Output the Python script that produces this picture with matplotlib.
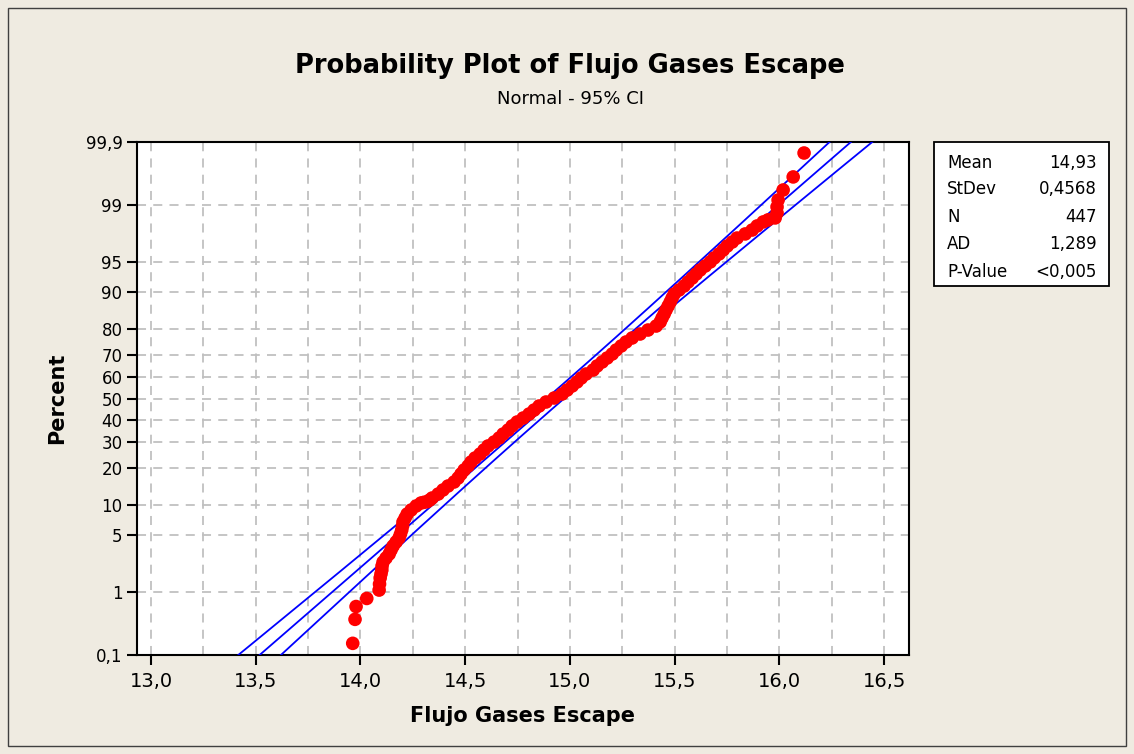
import numpy as np
import matplotlib
matplotlib.use('Agg')
import matplotlib.pyplot as plt
from matplotlib.patches import Rectangle
from statistics import NormalDist

# points: value and percent
flujo = [13.963, 13.974, 13.979, 14.030, 14.089, 14.091, 14.094, 14.098, 14.102, 14.103,
         14.108, 14.122, 14.137, 14.146, 14.156, 14.170, 14.184, 14.191, 14.197, 14.201,
         14.203, 14.213, 14.223, 14.242, 14.266, 14.289, 14.303, 14.318, 14.330, 14.342,
         14.371, 14.394, 14.418,
         14.447, 14.466, 14.480, 14.495, 14.514, 14.528, 14.547, 14.571, 14.590, 14.609,
         14.638, 14.662, 14.681, 14.705, 14.724, 14.748, 14.777, 14.805, 14.829, 14.853,
         14.886, 14.925, 14.963, 14.987, 15.011, 15.034, 15.054, 15.077, 15.111, 15.130,
         15.154, 15.178, 15.202, 15.221, 15.245, 15.268, 15.297, 15.335, 15.373, 15.412,
         15.431, 15.440, 15.450, 15.459, 15.469, 15.479, 15.488, 15.498, 15.521, 15.545,
         15.564, 15.584, 15.603, 15.622, 15.646, 15.670, 15.689, 15.712, 15.732, 15.751,
         15.775, 15.798, 15.837, 15.870, 15.894, 15.923, 15.946, 15.980, 15.989, 15.989,
         15.994, 16.018, 16.066, 16.118]
percent = [0.159, 0.39, 0.61, 0.80, 1.05, 1.27, 1.53, 1.73, 1.94, 2.18,
           2.44, 2.73, 3.05, 3.40, 3.78, 4.19, 4.64, 5.12, 5.66, 6.23,
           6.84, 7.49, 8.20, 8.96, 9.77, 10.40, 10.55, 10.69, 11.05, 11.53,
           12.49, 13.52, 14.59,
           15.72, 16.90, 18.14, 19.46, 20.81, 22.21, 23.67, 25.18, 26.76, 28.37,
           30.01, 31.70, 33.43, 35.20, 37.03, 38.86, 40.71, 42.58, 44.47, 46.41,
           48.32, 50.24, 52.16, 54.06, 56.00, 57.89, 59.75, 61.60, 63.42, 65.25,
           67.00, 68.72, 70.40, 72.04, 73.66, 75.20, 76.70, 78.14, 79.53, 80.87,
           82.17, 83.40, 84.57, 85.68, 86.74, 87.76, 88.70, 89.60, 90.44, 91.23,
           91.98, 92.67, 93.32, 93.92, 94.48, 95.00, 95.48, 95.92, 96.32, 96.69,
           97.03, 97.34, 97.63, 97.88, 98.12, 98.33, 98.43, 98.52, 98.73, 98.95,
           99.16, 99.40, 99.62, 99.845]

# summary table
mean = 14.93
stdev = 0.4568
n = 447
stat_names = ['Mean', 'StDev', 'N', 'AD', 'P-Value']
stat_values = ['14,93', '0,4568', '447', '1,289', '<0,005']

x_ticks = [13.0, 13.5, 14.0, 14.5, 15.0, 15.5, 16.0, 16.5]
y_ticks = [0.1, 1, 5, 10, 20, 30, 40, 50, 60, 70, 80, 90, 95, 99, 99.9]

nd = NormalDist()

def pct_to_z(p):
    p = np.clip(np.asarray(p, dtype=float), 1e-7, 100 - 1e-7)
    return np.vectorize(lambda v: nd.inv_cdf(v / 100.0), otypes=[float])(p)

def z_to_pct(z):
    return np.vectorize(lambda v: nd.cdf(v) * 100.0, otypes=[float])(np.asarray(z, dtype=float))

def comma(v, fmt):
    return format(v, fmt).replace('.', ',')

bg = '#EFEBE1'
plt.rcParams['font.family'] = ['DejaVu Sans']

fig = plt.figure(figsize=(11.34, 7.54), dpi=100, facecolor=bg)
fig.patches.append(Rectangle((8 / 1134, 8 / 754), 1 - 16 / 1134, 1 - 16 / 754, transform=fig.transFigure,
                             fill=False, edgecolor='#404040', linewidth=1))

ax = fig.add_axes([137 / 1134, 1 - 655 / 754, 772 / 1134, 513 / 754])
ax.set_yscale('function', functions=(pct_to_z, z_to_pct))

# fitted line and 95% confidence band
zz = np.linspace(-4.5, 4.5, 300)
fit = mean + zz * stdev
se = stdev * np.sqrt((1 + zz ** 2 / 2) / n)
pp = z_to_pct(zz)
for xs in (fit - 1.96 * se, fit, fit + 1.96 * se):
    ax.plot(xs, pp, color='#0000FF', lw=1.3, zorder=3)

ax.scatter(flujo, percent, s=96, color='#FF0000', edgecolors='none', zorder=4)

ax.set_xlim(12.933, 16.619)
ax.set_ylim(0.1, 99.9)
ax.set_xticks(x_ticks)
ax.set_xticklabels([comma(v, '.1f') for v in x_ticks])
ax.set_yticks(y_ticks)
ax.set_yticklabels([comma(v, 'g') for v in y_ticks])
ax.yaxis.set_minor_locator(matplotlib.ticker.NullLocator())
ax.tick_params(direction='out', length=7, width=1.5, labelsize=12, colors='black')
ax.tick_params(axis='x', labelsize=14, pad=5)

# dashed grid, also at the quarter steps on x
for gx in np.arange(13.0, 16.51, 0.25):
    ax.axvline(gx, color='#C0C0C0', lw=1.3, ls=(0, (5, 4)), zorder=1)
for gy in y_ticks:
    ax.axhline(gy, color='#C0C0C0', lw=1.3, ls=(0, (5, 4)), zorder=1)
for sp in ax.spines.values():
    sp.set_linewidth(1.5)

ax.set_xlabel('Flujo Gases Escape', fontsize=15, fontweight='bold', labelpad=11)
ax.set_ylabel('Percent', fontsize=15, fontweight='bold', labelpad=13)

fig.text(0.503, 1 - 66 / 754, 'Probability Plot of Flujo Gases Escape', ha='center', va='center',
         fontsize=18.5, fontweight='bold')
fig.text(0.503, 1 - 99 / 754, 'Normal - 95% CI', ha='center', va='center', fontsize=13)

# stats box
fig.patches.append(Rectangle((934 / 1134, 1 - 286 / 754), 175 / 1134, 144 / 754, transform=fig.transFigure,
                             facecolor='white', edgecolor='black', linewidth=1.3))
rows_y = [163, 189, 217, 244, 272]
for name, val, ry in zip(stat_names, stat_values, rows_y):
    fig.text(947 / 1134, 1 - ry / 754, name, ha='left', va='center', fontsize=12)
    fig.text(1097 / 1134, 1 - ry / 754, val, ha='right', va='center', fontsize=12)

fig.savefig('out.png', dpi=100, facecolor=bg)
